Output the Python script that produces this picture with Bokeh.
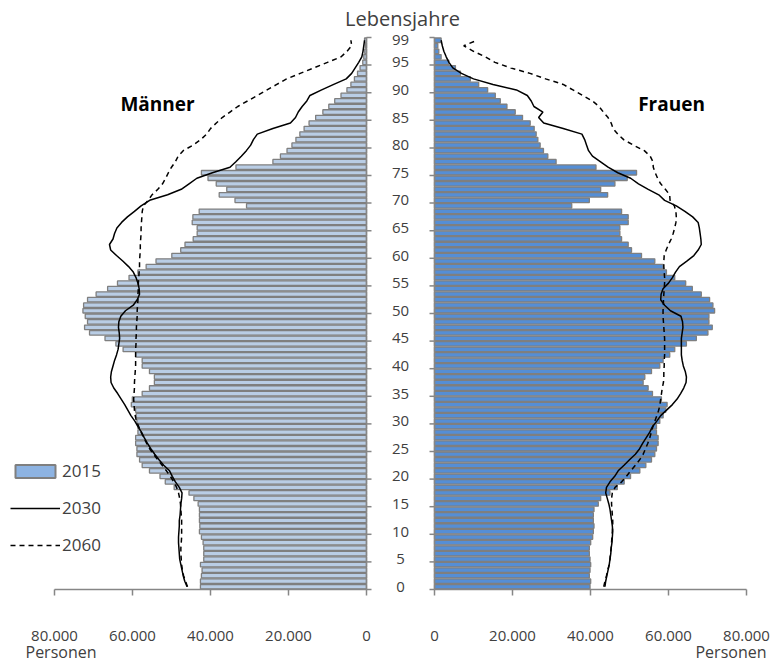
from bokeh.plotting import figure
from bokeh.models import Range1d, Legend, LegendItem, Label
from bokeh.core.properties import value
from bokeh.embed import file_html
from bokeh.resources import INLINE

# ---------------- data (ages 0..99) ----------------
ages = list(range(100))

men_2015 = [42580, 42580, 42330, 42160, 42580, 41730, 41730, 41730, 41900, 42330,
            42840, 42740, 42840, 42840, 42840, 43170, 44260, 45520, 49320, 51600,
            52950, 55650, 57520, 58190, 58870, 58870, 59200, 59200, 58610, 58610,
            58870, 59040, 59200, 60300, 60050, 57520, 55650, 54390, 54390, 55650,
            57520, 57520, 59200, 62410, 64260, 67050, 71020, 72290, 71530, 72120,
            72710, 72540, 71530, 69330, 66380, 63850, 60890, 58610, 56500, 53970,
            49920, 47640, 46540, 44440, 43420, 43420, 44690, 44520, 42900, 30760,
            33720, 37770, 35830, 38530, 40640, 42330, 33470, 24000, 22070, 20380,
            19120, 18100, 17090, 16000, 14730, 13040, 11190, 9670, 8150, 6540,
            5020, 4000, 3100, 2300, 1650, 960, 700, 450, 300, 500]

women_2015 = [39880, 40050, 39700, 39880, 40050, 39880, 39700, 39700, 40050, 40560,
              40730, 40900, 40730, 40730, 40900, 42000, 42610, 44990, 46860, 48640,
              50270, 52650, 54190, 55640, 56490, 56920, 57340, 57340, 56920, 56920,
              57770, 58620, 59300, 59640, 58190, 55890, 54780, 53500, 53930, 55640,
              57770, 58620, 60320, 61600, 64590, 67140, 70110, 71220, 70370, 70370,
              71820, 71390, 70540, 68410, 66110, 64410, 61600, 59470, 58620, 56490,
              53080, 50520, 49670, 47970, 47540, 47540, 49670, 49670, 47970, 35190,
              39700, 44400, 42610, 46260, 49420, 51810, 41410, 31180, 29060, 27940,
              27090, 26500, 26070, 25560, 24540, 22570, 20700, 18580, 16870, 15590,
              13630, 11330, 9200, 6650, 5370, 3660, 1700, 1110, 850, 1700]

men_2030 = [46000, 46600, 47000, 47300, 47600, 47900, 48000, 48100, 48200, 48200,
            48100, 48000, 48000, 47800, 47700, 47600, 47400, 47300, 48000, 49000,
            49800, 50500, 52000, 53200, 54300, 55300, 56200, 57000, 57700, 58600,
            59400, 60400, 61200, 62000, 62900, 63800, 64800, 65500, 65600, 65400,
            65000, 64600, 64100, 63700, 63500, 63300, 63400, 63600, 63500, 63000,
            61800, 59800, 58800, 58200, 58300, 58600, 59100, 59800, 61000, 62500,
            64100, 65600, 65900, 65000, 64600, 64000, 62800, 61300, 59500, 57800,
            55600, 51000, 47500, 45500, 43500, 39500, 35000, 33500, 32100, 30800,
            29700, 29000, 28000, 24000, 19500, 18200, 17500, 16500, 15300, 14500,
            11500, 8400, 5200, 3800, 2900, 2000, 1200, 900, 700, 500]

women_2030 = [43700, 43900, 44200, 44500, 44800, 45000, 45200, 45300, 45500, 45600,
              45700, 45600, 45400, 45200, 45000, 44700, 44300, 43900, 44100, 45000,
              46200, 47100, 48600, 50000, 51500, 52600, 53400, 54300, 55200, 55900,
              57000, 58000, 59500, 61000, 62200, 63100, 63900, 64500, 64600, 64300,
              63800, 63500, 63300, 63300, 63300, 63300, 63500, 63700, 63600, 63200,
              60500, 59000, 58000, 58100, 58600, 60000, 61000, 61800, 62800, 64700,
              66500, 67600, 68400, 68300, 68100, 67900, 67600, 66200, 64200, 62000,
              59000, 57500, 54800, 52300, 50300, 47000, 44500, 42500, 40500, 39500,
              39000, 38500, 37800, 33000, 28000, 26700, 27800, 25500, 24800, 23800,
              21000, 15000, 10000, 6900, 4700, 3700, 3000, 2400, 2000, 1700]

men_2060 = [45900, 46400, 46900, 47200, 47400, 47500, 47600, 47600, 47500, 47400,
            47400, 47400, 47400, 47500, 47600, 47700, 47900, 48200, 48700, 49400,
            50300, 51300, 52400, 53500, 54600, 55600, 56400, 57100, 57800, 58400,
            59000, 59300, 59500, 59600, 59700, 59600, 59500, 59500, 59400, 59300,
            59200, 59200, 59200, 59200, 59100, 59100, 59000, 59000, 58900, 58800,
            58800, 58700, 58600, 58600, 58500, 58500, 58400, 58300, 58200, 58200,
            58100, 58000, 58000, 57900, 57800, 57800, 57700, 57600, 57500, 57200,
            56000, 55000, 53500, 52300, 51500, 50800, 50000, 49000, 48300, 47000,
            44500, 42500, 41000, 40000, 38500, 37000, 35000, 33000, 30500, 28000,
            25500, 23000, 20500, 17000, 13500, 10000, 6500, 5000, 3800, 4000]

women_2060 = [43400, 43700, 44100, 44400, 44800, 45000, 45100, 45300, 45400, 45500,
              45600, 45700, 45700, 45600, 45500, 45400, 45400, 45600, 46300, 48000,
              49200, 50300, 51500, 52600, 53500, 54100, 54700, 55200, 55600, 56000,
              56500, 57000, 57500, 57800, 58000, 58200, 58400, 58700, 58800, 58800,
              58900, 58900, 59000, 59000, 59000, 59000, 58900, 58800, 58700, 58600,
              58600, 58700, 58700, 58800, 58900, 59000, 59000, 58900, 58800, 58800,
              58900, 59400, 60000, 60700, 61200, 61600, 61900, 62000, 61900, 61500,
              60400, 60300, 59200, 58000, 57200, 56600, 56100, 56000, 55300, 53800,
              51000, 48500, 47000, 45800, 45300, 44500, 43300, 42200, 40500, 38000,
              35500, 33000, 28500, 24500, 19500, 15500, 13000, 10000, 7500, 10900]

age_tick_labels = [0, 5, 10, 15, 20, 25, 30, 35, 40, 45, 50, 55, 60, 65, 70, 75, 80, 85, 90, 95, 99]
x_tick_values = [0, 20000, 40000, 60000, 80000]
legend_labels = ["2015", "2030", "2060"]

# ---------------- layout constants ----------------
W, HGT = 770, 666
PX = 0.0039             # pixels per person
CENTER_PX = 400         # x pixel of the gap centre
H = round(34 / PX)      # half gap (data units)
TICK = round(5 / PX)
PPY = 5.52              # pixels per age year
Y_AXIS_PX = 589         # pixel of age -0.5


def xd(px):
    return (px - CENTER_PX) / PX


def yd(py):
    return -0.5 + (Y_AXIS_PX - py) / PPY


FONT = "Open Sans"
GREY = "#868686"
TXT = "#404040"

p = figure(width=W, height=HGT, output_backend="svg", toolbar_location=None,
           x_range=Range1d(xd(0), xd(W)), y_range=Range1d(yd(HGT), yd(0)),
           x_axis_location=None, y_axis_location=None,
           min_border=0, min_border_left=0, min_border_right=0,
           min_border_top=0, min_border_bottom=0)
p.grid.visible = False
p.outline_line_color = None
p.background_fill_color = "white"
p.border_fill_color = "white"

# bars 2015
p.hbar(y=ages, left=[-(H + v) for v in men_2015], right=[-H] * len(ages), height=0.82,
       fill_color="#b9cde5", line_color="#7f7f7f", line_width=1.3)
p.hbar(y=ages, left=[H] * len(ages), right=[H + v for v in women_2015], height=0.82,
       fill_color="#558ed5", line_color="#7f7f7f", line_width=1.3)

# lines 2030 / 2060
l30 = p.line(x=[-(H + v) for v in men_2030], y=ages, line_color="black", line_width=1.5)
p.line(x=[H + v for v in women_2030], y=ages, line_color="black", line_width=1.5)
l60 = p.line(x=[-(H + v) for v in men_2060], y=ages, line_color="black", line_width=1.5,
             line_dash="5 4")
p.line(x=[H + v for v in women_2060], y=ages, line_color="black", line_width=1.5,
       line_dash="5 4")

# legend swatch renderer (one undrawable NaN bar)
nan = float("nan")
swatch = p.hbar(y=[nan], left=[nan], right=[nan], height=0.8, fill_color="#8db3e2",
                line_color="#7f7f7f", line_width=2)

# axis lines (zero lines and value axes)
xmax = max(x_tick_values)
p.segment(x0=[-H, H], y0=[-0.5, -0.5], x1=[-(H + xmax), H + xmax], y1=[-0.5, -0.5],
          line_color=GREY, line_width=1.5)
p.segment(x0=[-H, H], y0=[-0.5, -0.5], x1=[-H, H], y1=[99.5, 99.5],
          line_color=GREY, line_width=1.5)
tick_y = [a - 0.5 for a in range(0, 100, 5)] + [99.5]
p.segment(x0=[-H] * len(tick_y) + [H] * len(tick_y), y0=tick_y + tick_y,
          x1=[-H + TICK] * len(tick_y) + [H - TICK] * len(tick_y), y1=tick_y + tick_y,
          line_color=GREY, line_width=1.5)

# value-axis ticks and labels
tick_x = [-(H + t) for t in x_tick_values] + [H + t for t in x_tick_values]
tick_txt = [f"{t:,}".replace(",", ".") for t in x_tick_values] * 2
p.segment(x0=tick_x, y0=[-0.5] * len(tick_x), x1=tick_x, y1=[yd(Y_AXIS_PX + 6)] * len(tick_x),
          line_color=GREY, line_width=1.5)
p.text(x=tick_x, y=[yd(635)] * len(tick_x), text=tick_txt, text_align="center",
       text_baseline="middle", text_font=value(FONT), text_font_size="15px", text_color=TXT)

# age labels
p.text(x=[0] * len(age_tick_labels), y=age_tick_labels, text=[str(a) for a in age_tick_labels],
       text_align="center", text_baseline="middle", text_font=value(FONT),
       text_font_size="15px", text_color=TXT)

# titles
p.add_layout(Label(x=xd(402), y=yd(18), text="Lebensjahre", text_align="center",
                   text_baseline="middle", text_font=FONT, text_font_size="20px",
                   text_color=TXT))
p.add_layout(Label(x=xd(157), y=yd(103), text="Männer", text_align="center",
                   text_baseline="middle", text_font=FONT, text_font_size="19px",
                   text_font_style="bold", text_color="black"))
p.add_layout(Label(x=xd(671), y=yd(103), text="Frauen", text_align="center",
                   text_baseline="middle", text_font=FONT, text_font_size="19px",
                   text_font_style="bold", text_color="black"))
p.add_layout(Label(x=xd(25), y=yd(651), text="Personen", text_align="left",
                   text_baseline="middle", text_font=FONT, text_font_size="16px",
                   text_color=TXT))
p.add_layout(Label(x=xd(766), y=yd(651), text="Personen", text_align="right",
                   text_baseline="middle", text_font=FONT, text_font_size="16px",
                   text_color=TXT))

legend = Legend(items=[LegendItem(label=legend_labels[0], renderers=[swatch]),
                       LegendItem(label=legend_labels[1], renderers=[l30]),
                       LegendItem(label=legend_labels[2], renderers=[l60])],
                location=(10, HGT - 556), orientation="vertical", glyph_width=50,
                glyph_height=16, label_height=20, spacing=14, padding=0, margin=0,
                border_line_color=None, background_fill_alpha=0, label_text_font=FONT,
                label_text_font_size="17px", label_text_color=TXT, label_standoff=2)
p.add_layout(legend)

open("out.html", "w").write(file_html(p, INLINE))
